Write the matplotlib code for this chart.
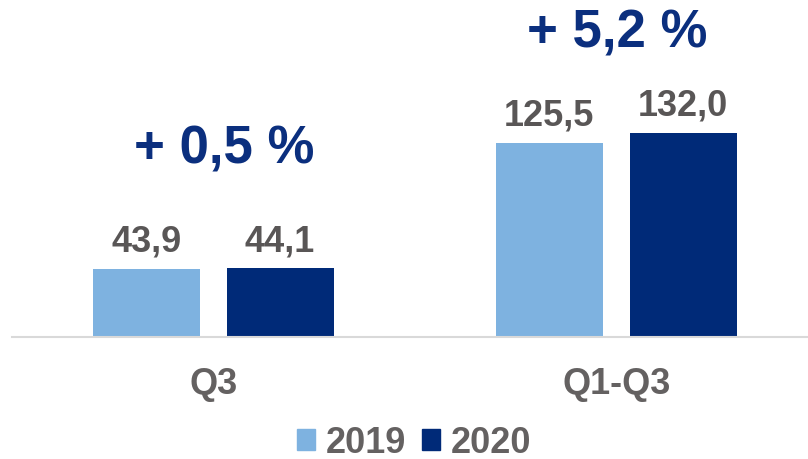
import matplotlib
matplotlib.use("Agg")
import matplotlib.pyplot as plt
from matplotlib.patches import Patch
import numpy as np

plt.rcParams['font.family'] = ['Liberation Sans', 'DejaVu Sans']

categories = ["Q3", "Q1-Q3"]
series_names = ["2019", "2020"]
values_2019 = [43.9, 125.5]
values_2020 = [44.1, 132.0]
value_labels_2019 = ["43,9", "125,5"]
value_labels_2020 = ["44,1", "132,0"]
change_labels = ["+ 0,5 %", "+ 5,2 %"]

c2019 = "#7EB2E0"
c2020 = "#002A78"
grey = "#595656"
navy = "#0B2F7E"

W, H = 808, 460
fig = plt.figure(figsize=(W / 100, H / 100), dpi=100)
base_px = 337.5
ax = fig.add_axes([12 / W, (H - base_px) / H, (W - 12) / W, base_px / H])

x = np.arange(len(categories))
bw = 0.2655
off = 0.166
b1 = ax.bar(x - off, values_2019, bw, color=c2019)
b2 = ax.bar(x + off, values_2020, bw, color=c2020)

ax.set_xlim(-0.499, 1.476)
ax.set_ylim(0, base_px / 1.545)

for rects, labs in ((b1, value_labels_2019), (b2, value_labels_2020)):
    for r, lab in zip(rects, labs):
        ax.annotate(lab, (r.get_x() + r.get_width() / 2, r.get_height()),
                    xytext=(0, 13), textcoords="offset points",
                    ha="center", va="baseline", fontsize=26, fontweight="bold",
                    color=grey)

# change annotations above groups (baseline positions)
change_dx = [0.027, 0.0025]
change_y = [112.9, 188.0]
for xi, dx, cy, lab in zip(x, change_dx, change_y, change_labels):
    ax.text(xi + dx, cy, lab, ha="center", va="baseline",
            fontsize=38, fontweight="bold", color=navy)

for s in ["top", "right", "left"]:
    ax.spines[s].set_visible(False)
ax.spines["bottom"].set_color("#D9D9D9")
ax.spines["bottom"].set_linewidth(1.5)
ax.set_yticks([])
ax.set_xticks(x)
ax.set_xticklabels(categories, fontsize=26, fontweight="bold", color="#646161")
ax.tick_params(axis="x", length=0, pad=21)

handles = [Patch(color=c2019), Patch(color=c2020)]
leg = fig.legend(handles, series_names, loc="center", bbox_to_anchor=(414 / W, 1 - 444 / H),
                 ncol=2, frameon=False, handlelength=0.5, handleheight=0.5,
                 handletextpad=0.3, columnspacing=0.42,
                 prop={"size": 26, "weight": "bold"})
for t in leg.get_texts():
    t.set_color("#646161")

fig.savefig("out.png", dpi=100)
